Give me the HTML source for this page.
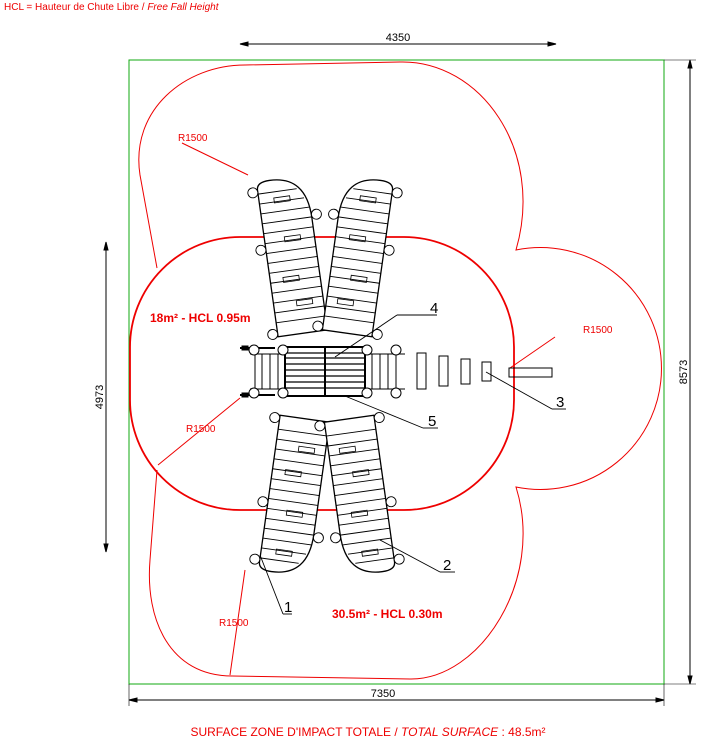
<!DOCTYPE html>
<html><head><meta charset="utf-8"><style>
body{margin:0;background:#fff}
svg{display:block;font-family:"Liberation Sans",sans-serif}
</style></head><body>
<svg width="722" height="741" viewBox="0 0 722 741" xmlns="http://www.w3.org/2000/svg">
<defs>
<g id="slide">
<path d="M-25,78 L-25,-70 Q-25,-78 -12,-78 Q25,-78 25,-35 L25,78 Z" fill="#fff" stroke="#000" stroke-width="1.3"/>
<g stroke="#000" stroke-width="0.9">
<line x1="-25" y1="-66" x2="14" y2="-66"/><line x1="-25" y1="-56" x2="20" y2="-56"/>
<line x1="-25" y1="-46" x2="24" y2="-46"/><line x1="-25" y1="-36" x2="25" y2="-36"/>
<line x1="-25" y1="-26" x2="25" y2="-26"/><line x1="-25" y1="-16" x2="25" y2="-16"/>
<line x1="-25" y1="-6" x2="25" y2="-6"/><line x1="-25" y1="4" x2="25" y2="4"/>
<line x1="-25" y1="14" x2="25" y2="14"/><line x1="-25" y1="24" x2="25" y2="24"/>
<line x1="-25" y1="34" x2="25" y2="34"/><line x1="-25" y1="44" x2="25" y2="44"/>
<line x1="-25" y1="54" x2="25" y2="54"/><line x1="-25" y1="64" x2="25" y2="64"/>
</g>
<rect x="-10" y="-60" width="16" height="5" fill="none" stroke="#000" stroke-width="0.8"/>
<rect x="-5" y="-20" width="16" height="5" fill="none" stroke="#000" stroke-width="0.8"/>
<rect x="-12" y="20" width="16" height="5" fill="none" stroke="#000" stroke-width="0.8"/>
<rect x="-2" y="45" width="16" height="5" fill="none" stroke="#000" stroke-width="0.8"/>
<g fill="#fff" stroke="#000" stroke-width="0.9">
<circle cx="-30" cy="-68" r="5"/><circle cx="-30" cy="-10" r="5"/><circle cx="-30" cy="75" r="5"/>
<circle cx="30" cy="-38" r="5"/><circle cx="30" cy="75" r="5"/>
</g>
</g>
</defs>
<text x="4" y="10" font-size="10" fill="#e00">HCL = Hauteur de Chute Libre / <tspan font-style="italic">Free Fall Height</tspan></text>
<rect x="129" y="60" width="535" height="624" fill="none" stroke="#1a1" stroke-width="1"/>
<g stroke="#000" stroke-width="1" fill="#000">
<line x1="240" y1="44" x2="556" y2="44"/><path d="M240,44 l8,-2 v4z M556,44 l-8,-2 v4z"/>
<line x1="106" y1="242" x2="106" y2="552"/><path d="M106,242 l-2,8 h4z M106,552 l-2,-8 h4z"/>
<line x1="129" y1="700" x2="664" y2="700"/><path d="M129,700 l8,-2 v4z M664,700 l-8,-2 v4z"/>
<line x1="690" y1="60" x2="690" y2="684"/><path d="M690,60 l-2,8 h4z M690,684 l-2,-8 h4z"/>
<line x1="664" y1="60" x2="696" y2="60" stroke-width="0.6"/><line x1="664" y1="684" x2="696" y2="684" stroke-width="0.6"/>
<line x1="129" y1="684" x2="129" y2="706" stroke-width="0.6"/><line x1="664" y1="684" x2="664" y2="706" stroke-width="0.6"/>
</g>
<g font-size="11" fill="#000">
<text x="398" y="41" text-anchor="middle">4350</text>
<text x="383" y="697" text-anchor="middle">7350</text>
<text transform="translate(103,397) rotate(-90)" text-anchor="middle">4973</text>
<text transform="translate(687,372) rotate(-90)" text-anchor="middle">8573</text>
</g>
<path d="M157,268 L140,175 C130,110 185,65 245,65 L400,62 C480,60 545,150 516,250 A121,121 0 1 1 516,487 C545,580 480,680 410,679 L232,676 C170,676 145,620 150,560 L157,470" fill="none" stroke="#e00" stroke-width="1"/>
<rect x="130" y="237" width="384" height="273" rx="110" ry="110" fill="none" stroke="#e00" stroke-width="1.8"/>
<g stroke="#e00" stroke-width="1" fill="none">
<line x1="182" y1="143" x2="248" y2="175"/><line x1="555" y1="337" x2="510" y2="368"/>
<line x1="158" y1="465" x2="240" y2="398"/><line x1="245" y1="570" x2="230" y2="675"/>
</g>
<g font-size="10" fill="#e00">
<text x="178" y="141">R1500</text><text x="583" y="333">R1500</text>
<text x="186" y="432">R1500</text><text x="219" y="626">R1500</text>
</g>
<text x="150" y="322" font-size="12" font-weight="bold" fill="#e00">18m² - HCL 0.95m</text>
<text x="332" y="618" font-size="12" font-weight="bold" fill="#e00">30.5m² - HCL 0.30m</text>
<use href="#slide" transform="translate(292,256) rotate(-8)"/>
<use href="#slide" transform="translate(358,256) rotate(8) scale(-1,1)"/>
<use href="#slide" transform="translate(294,496) rotate(8) scale(1,-1)"/>
<use href="#slide" transform="translate(360,496) rotate(-8) scale(-1,-1)"/>
<g stroke="#000" fill="none" stroke-width="1">
<rect x="242" y="346" width="6" height="4" fill="#000"/><rect x="242" y="393" width="6" height="4" fill="#000"/>
<line x1="240" y1="348" x2="275" y2="348" stroke-width="2"/><line x1="240" y1="395" x2="275" y2="395" stroke-width="2"/>
<line x1="250" y1="354" x2="405" y2="354"/><line x1="250" y1="389" x2="405" y2="389"/>
<line x1="255" y1="354" x2="255" y2="389"/><line x1="262" y1="354" x2="262" y2="389"/><line x1="270" y1="354" x2="270" y2="389"/><line x1="278" y1="354" x2="278" y2="389"/>
<line x1="372" y1="354" x2="372" y2="389"/><line x1="380" y1="354" x2="380" y2="389"/><line x1="388" y1="354" x2="388" y2="389"/><line x1="396" y1="354" x2="396" y2="389"/>
<rect x="285" y="347" width="80" height="49" fill="#fff" stroke-width="2"/>
<g stroke-width="1.2"><line x1="285" y1="353" x2="365" y2="353"/><line x1="285" y1="358" x2="365" y2="358"/><line x1="285" y1="364" x2="365" y2="364"/><line x1="285" y1="370" x2="365" y2="370"/><line x1="285" y1="376" x2="365" y2="376"/><line x1="285" y1="382" x2="365" y2="382"/><line x1="285" y1="388" x2="365" y2="388"/></g>
<line x1="325" y1="347" x2="325" y2="396" stroke-width="2"/>
<g fill="#fff"><circle cx="254" cy="350" r="5"/><circle cx="254" cy="393" r="5"/><circle cx="283" cy="350" r="5"/><circle cx="283" cy="393" r="5"/><circle cx="367" cy="350" r="5"/><circle cx="367" cy="393" r="5"/><circle cx="396" cy="350" r="5"/><circle cx="396" cy="393" r="5"/></g>
<rect x="417" y="353" width="9" height="36"/><rect x="439" y="356" width="9" height="30"/><rect x="461" y="359" width="9" height="25"/><rect x="482" y="362" width="9" height="19"/>
<rect x="509" y="368" width="43" height="9"/>
</g>
<g stroke="#000" stroke-width="0.9" fill="none">
<line x1="335" y1="357" x2="397" y2="315"/><line x1="397" y1="315" x2="437" y2="315"/>
<line x1="486" y1="372" x2="552" y2="409"/><line x1="552" y1="409" x2="566" y2="409"/>
<line x1="345" y1="396" x2="423" y2="428"/><line x1="423" y1="428" x2="438" y2="428"/>
<line x1="380" y1="540" x2="440" y2="572"/><line x1="440" y1="572" x2="455" y2="572"/>
<line x1="260" y1="555" x2="283" y2="614"/><line x1="283" y1="614" x2="292" y2="614"/>
</g>
<g font-size="15" fill="#000">
<text x="430" y="313">4</text><text x="556" y="407">3</text><text x="428" y="426">5</text><text x="443" y="570">2</text><text x="284" y="612">1</text>
</g>
<text x="368" y="736" font-size="12" fill="#e00" text-anchor="middle">SURFACE ZONE D'IMPACT TOTALE / <tspan font-style="italic">TOTAL SURFACE</tspan> : 48.5m²</text>
</svg>
</body></html>
